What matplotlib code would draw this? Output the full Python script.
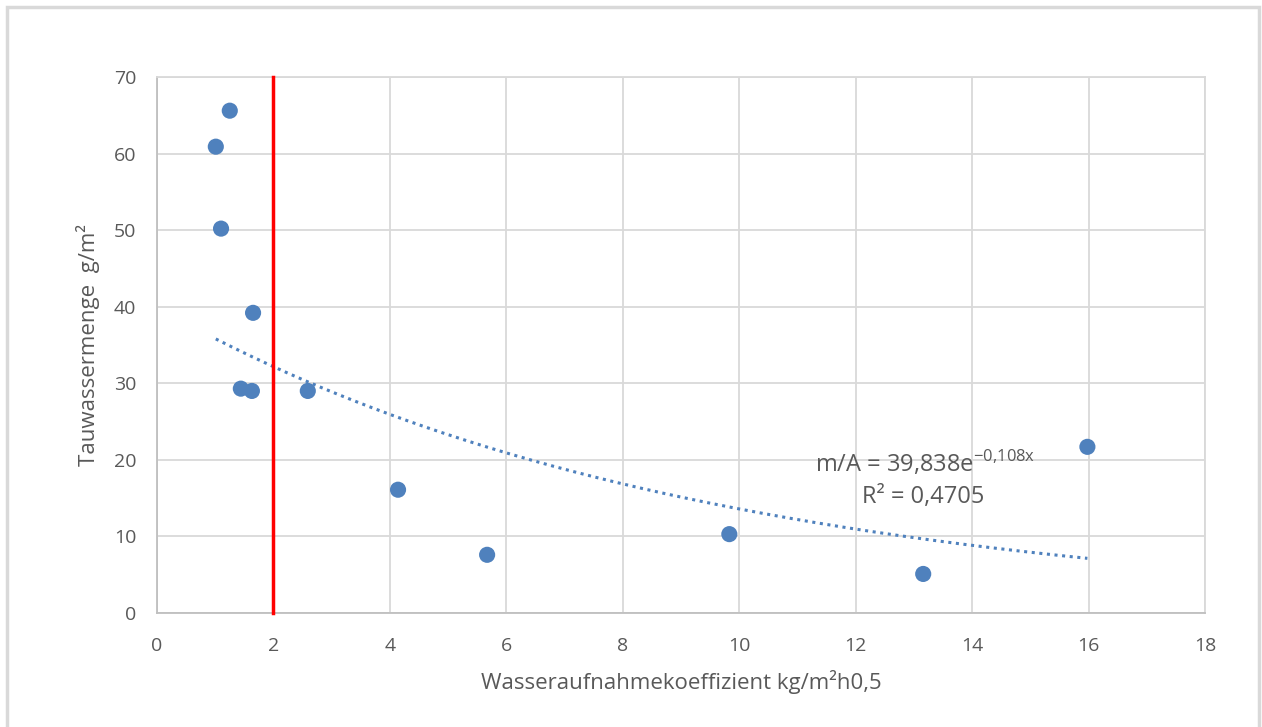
import matplotlib.pyplot as plt
import numpy as np

w_wert = [1.01, 1.25, 1.10, 1.65, 1.44, 1.63, 2.59, 4.14, 5.67, 9.83, 13.16, 15.98]  # kg/m2h0,5
tauwasser = [60.9, 65.6, 50.2, 39.2, 29.3, 29.0, 29.0, 16.1, 7.6, 10.3, 5.1, 21.7]  # g/m2

grenze_x = 2  # rote Grenzlinie
x_ticks = [0, 2, 4, 6, 8, 10, 12, 14, 16, 18]
y_ticks = [0, 10, 20, 30, 40, 50, 60, 70]

grey_txt = '#595959'
grid_c = '#d9d9d9'
blue = '#4f81bd'

plt.rcParams['font.family'] = ['Open Sans', 'DejaVu Sans']

W, H = 1262, 727
fig = plt.figure(figsize=(W / 100, H / 100), dpi=100)
ax = fig.add_axes([157 / W, 1 - 613 / H, (1205 - 157) / W, (613 - 77) / H])

# Rahmen um das Diagramm
fig.patches.append(plt.Rectangle((7 / W, -0.01), (1259 - 7) / W, 1 - 7 / H + 0.01,
                                 transform=fig.transFigure, fill=False,
                                 edgecolor='#d9d9d9', linewidth=2.5))

ax.set_xlim(0, 18)
ax.set_ylim(0, 70)
ax.set_xticks(x_ticks)
ax.set_yticks(y_ticks)
ax.grid(True, color=grid_c, linewidth=1.3)
ax.set_axisbelow(True)
for s in ax.spines.values():
    s.set_color(grid_c)
    s.set_linewidth(1.3)
ax.spines['bottom'].set_color('#bfbfbf')
ax.spines['left'].set_color('#bfbfbf')
ax.tick_params(length=0, colors=grey_txt, labelsize=14)
ax.tick_params(axis='x', pad=17)
ax.tick_params(axis='y', pad=15)

# Exponentieller Trend (wie Excel: Fit von ln(y) über x)
b, ln_a = np.polyfit(w_wert, np.log(tauwasser), 1)
xt = np.linspace(min(w_wert), max(w_wert), 200)
ax.plot(xt, np.exp(ln_a) * np.exp(b * xt), color=blue, linestyle=(0, (1, 1.5)),
        linewidth=2.2, zorder=2)

ax.scatter(w_wert, tauwasser, s=135, color=blue, zorder=3, edgecolors='none')

ax.plot([grenze_x, grenze_x], [0, 70], color='red', linewidth=2.5, zorder=4, clip_on=False)

fig.text(815 / W, 1 - 463 / H, r'm/A = 39,838e$^{\mathregular{-0{,}108x}}$', ha='left', va='center',
         fontsize=17, color=grey_txt)
fig.text(862 / W, 1 - 497 / H, 'R² = 0,4705', ha='left', va='center',
         fontsize=17, color=grey_txt)

ax.set_xlabel('Wasseraufnahmekoeffizient kg/m²h0,5', fontsize=16, color=grey_txt)
ax.set_ylabel('Tauwassermenge  g/m²', fontsize=16, color=grey_txt)
ax.xaxis.set_label_coords(0.5, (613 - 670) / 536)
ax.yaxis.set_label_coords((100 - 157) / 1048, 0.5)

fig.savefig('out.png', dpi=100)
